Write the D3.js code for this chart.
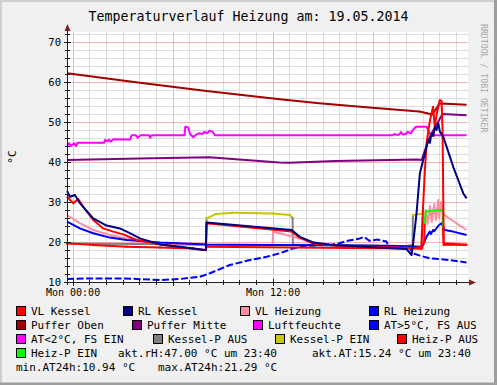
<!DOCTYPE html>
<html>
<head>
<meta charset="utf-8">
<script src="https://cdn.jsdelivr.net/npm/d3@7"></script>
<style>
  body { margin: 0; background: #fff; }
  svg { display: block; font-family: "DejaVu Sans Mono", monospace; }
</style>
</head>
<body>
<div id="graph"></div>
<script>
// hours from Mon 00:00, values in °C (or % for Luftfeuchte)
var vlKessel = [[-0.33,31.3],[0.04,29.7],[0.34,30.75],[0.64,28.8],[1.24,25.5],[1.84,23.4],[2.44,22.6],[3.04,21.9],[3.84,20.5],[4.84,19.7],[6.24,18.8],[8.0,18.0],[8.04,24.7],[13.14,22.6],[13.64,21.1],[14.44,19.6],[16,19.0],[20.5,18.5],[20.94,18.8],[21.03,28.8],[21.13,37.2],[21.24,44.7],[21.43,50.1],[21.63,53.8],[21.73,49.0],[21.85,52.0],[22.03,55.5],[22.14,55.3],[22.2,48.0],[22.27,19.7],[23.64,19.3]];
var rlKessel = [[-0.33,32.75],[-0.16,31.3],[0.14,31.75],[0.44,29.7],[1.24,25.9],[2.04,24.1],[2.84,23.4],[3.44,22.2],[4.04,20.9],[5.24,19.4],[6.44,18.8],[7.84,18.0],[8.0,18.0],[8.04,24.9],[13.14,23.0],[13.64,21.3],[14.44,19.9],[15.6,19.25],[20.04,18.25],[20.34,16.75],[20.44,19.7],[20.64,27.2],[20.84,37.2],[21.04,40.5],[21.34,45.5],[21.44,44.8],[21.54,47.2],[21.64,46.5],[21.74,48.8],[21.84,48.0],[21.94,49.7],[22.04,47.6],[22.24,46.3],[22.54,42.6],[22.84,38.8],[23.14,35.5],[23.44,32.2],[23.64,30.9]];
var vlHeizung = [[-0.33,26.75],[0.44,24.7],[1.24,23.0],[2.24,21.75],[3.24,20.9],[4.44,20.1],[5.84,19.4],[8,19.2],[12.0,19.2],[12.03,22.6],[13.24,21.3],[14.24,20.1],[15.24,19.4],[16,19.0],[20.9,18.8],[21.0,26.3],[21.1,24.0],[21.2,28.0],[21.3,24.5],[21.45,29.0],[21.55,25.0],[21.7,29.5],[21.8,25.5],[21.94,30.5],[22.0,26.0],[22.1,30.0],[22.2,27.5],[22.3,26.75],[23.64,23.0]];
var rlHeizung = [[-0.33,25.1],[0.44,23.4],[1.24,22.2],[2.24,21.1],[3.24,20.5],[5.24,19.9],[8.04,19.4],[12,19.25],[16,19.2],[19.5,19.0],[20.9,18.8],[21.03,19.25],[21.24,21.3],[21.43,22.6],[21.5,22.0],[21.63,23.0],[21.7,22.7],[21.99,24.25],[22.14,24.7],[22.33,23.0],[22.83,22.6],[23.64,21.75]];
var pufferOben = [[-0.33,62.2],[4.04,59.8],[8.04,57.75],[12.44,55.7],[14.8,54.7],[17.8,53.6],[20.8,52.6],[21.6,51.9],[22.0,54.5],[22.1,54.6],[23.64,54.3]];
var pufferMitte = [[-0.33,40.5],[4,40.9],[8.2,41.2],[10,40.6],[12.4,39.9],[13,39.8],[15.8,40.25],[20.7,40.6],[20.94,40.5],[21.43,46.3],[22.2,52.0],[23.64,51.7]];
var luftfeuchte = [[-0.33,44.0],[-0.2,44.7],[-0.1,44.0],[0.1,44.7],[0.2,44.0],[0.3,44.8],[1.9,44.8],[1.95,45.5],[2.1,45.2],[2.2,45.6],[2.3,45.1],[2.45,45.7],[3.45,45.6],[3.54,46.7],[3.8,46.7],[3.9,46.1],[4.1,46.7],[4.6,46.7],[4.65,46.1],[4.75,46.7],[6.72,46.7],[6.76,48.8],[6.92,48.7],[7.05,47.0],[7.24,46.2],[7.4,46.8],[7.6,47.2],[7.8,47.0],[7.9,47.5],[8.1,47.2],[8.2,47.8],[8.4,47.6],[8.54,46.7],[19.2,46.7],[19.3,47.0],[19.4,46.8],[19.6,46.8],[19.7,47.5],[19.8,46.9],[20.0,47.0],[20.1,47.5],[20.3,47.2],[20.4,47.9],[20.6,48.8],[21.24,48.8],[21.45,47.0],[21.63,46.7],[23.64,46.7]];
var aussen = [[-0.33,10.75],[1,10.9],[3,10.9],[5.24,10.5],[6.44,10.75],[7.64,11.3],[8.24,12.2],[9.44,14.25],[10.64,15.5],[11.64,16.3],[12.44,17.2],[13.24,18.4],[14,19.0],[15.6,19.4],[16.0,19.7],[16.5,20.3],[17.0,20.7],[17.24,20.9],[17.5,21.29],[17.8,20.3],[18.3,20.6],[18.84,20.1],[18.94,19.0],[20.2,18.8],[20.42,17.2],[20.84,16.6],[21.44,15.9],[22.64,15.5],[23.64,14.9]];
// pump states: [hour, value, on]
var kesselP = [[-0.33,19.6,0],[8.0,19.4,0],[8.04,25.9,1],[8.6,27.0,1],[9.6,27.3,1],[12,27.1,1],[13.04,26.75,1],[13.2,26.0,0],[13.22,19.3,0],[20.0,19.0,0],[20.4,19.3,0],[20.42,26.75,1],[21.13,27.2,1]];
var heizP = [[-0.33,19.7,0],[1.24,19.25,0],[3.24,18.8,0],[5.24,18.6,0],[7.24,18.4,0],[8.0,18.0,0],[8.04,18.8,0],[20.0,18.4,0],[20.94,18.3,0],[21.1,20.0,0],[21.13,24.7,1],[21.2,27.6,1],[22.0,28.0,1],[22.2,28.0,1],[22.22,23.4,0],[22.27,19.3,0],[23.64,19.3,0]];

var yTicks = [10, 20, 30, 40, 50, 60, 70];
var xLabels = [[0, "Mon 00:00"], [12, "Mon 12:00"]];
var title = "Temperaturverlauf Heizung am: 19.05.2014";
var legendRows = [
    [["VL Kessel", "#FF0000"], ["RL Kessel", "#000080"], ["VL Heizung", "#FF8CA0"], ["RL Heizung", "#0000FF"]],
    [["Puffer Oben", "#A00000"], ["Puffer Mitte", "#800080"], ["Luftfeuchte", "#FF00FF"], ["AT>5°C, FS AUS", "#0000FF"]],
    [["AT<2°C, FS EIN", "#FF00FF"], ["Kessel-P AUS", "#808080"], ["Kessel-P EIN", "#C8C800"], ["Heiz-P AUS", "#FF0000"]],
    [["Heiz-P EIN", "#00FF00"]]
];
var infoTexts = ["akt.rH:47.00 °C um 23:40", "akt.AT:15.24 °C um 23:40", "min.AT24h:10.94 °C", "max.AT24h:21.29 °C"];

var W = 497, H = 385,
    plot = {left: 67, right: 467, top: 32, bottom: 282};

var svg = d3.select("#graph").append("svg").attr("width", W).attr("height", H);

// frame
svg.append("rect").attr("width", W).attr("height", H).attr("fill", "#F0F0F0");
svg.append("path").attr("d", "M0,385V0H497").attr("fill", "none").attr("stroke", "#CFCFCF").attr("stroke-width", 4);
svg.append("path").attr("d", "M0,384H495.5V0").attr("fill", "none").attr("stroke", "#9E9E9E").attr("stroke-width", 3);

var x = d3.scaleLinear().domain([-1 / 3, 23 + 2 / 3]).range([plot.left, plot.right]);
var y = d3.scaleLinear().domain([10, 72.5]).range([plot.bottom, plot.top]);

svg.append("rect")
    .attr("x", plot.left).attr("y", plot.top)
    .attr("width", plot.right - plot.left + 1).attr("height", plot.bottom - plot.top)
    .attr("fill", "#fff");

function crisp(v) { return Math.round(v) + 0.5; }

// grid
var grid = svg.append("g");
d3.range(0, 24).forEach(function (h) {
    var px = crisp(x(h));
    grid.append("line")
        .attr("x1", px).attr("x2", px).attr("y1", plot.top).attr("y2", plot.bottom)
        .attr("stroke", h % 6 === 0 ? "#F4B4B4" : "#DCDCDC");
});
d3.range(10, 73, 2).forEach(function (v) {
    var py = crisp(y(v));
    grid.append("line")
        .attr("x1", plot.left).attr("x2", plot.right + 1).attr("y1", py).attr("y2", py)
        .attr("stroke", v % 10 === 0 ? "#F4B4B4" : "#DCDCDC");
});

// lines
var line = d3.line()
    .x(function (d) { return x(d[0]); })
    .y(function (d) { return y(d[1]); });

var plotArea = svg.append("g");

function drawLine(data, color, dash) {
    plotArea.append("path")
        .attr("d", line(data))
        .attr("fill", "none")
        .attr("stroke", color)
        .attr("stroke-width", 2)
        .attr("stroke-linejoin", "round")
        .attr("stroke-dasharray", dash || null);
}

function drawState(data, offColor, onColor) {
    for (var i = 0; i < data.length - 1; i++) {
        plotArea.append("path")
            .attr("d", line([data[i], data[i + 1]]))
            .attr("fill", "none")
            .attr("stroke", data[i][2] ? onColor : offColor)
            .attr("stroke-width", 2)
            .attr("stroke-linecap", "square");
    }
}

drawLine(pufferOben, "#A00000");
drawLine(pufferMitte, "#800080");
drawLine(luftfeuchte, "#FF00FF");
drawLine(aussen, "#0000FF", "7,2.5");
drawState(kesselP, "#808080", "#C8C800");
drawLine(vlHeizung, "#FF8CA0");
drawLine(rlHeizung, "#0000FF");
drawState(heizP, "#FF0000", "#00FF00");
drawLine(vlKessel, "#FF0000");
drawLine(rlKessel, "#000080");

// axes
var axisColor = "#1F1F1F", arrowColor = "#7F1F1F";
var ax = svg.append("g");
ax.append("line").attr("x1", crisp(plot.left)).attr("x2", crisp(plot.left))
    .attr("y1", plot.bottom + 3).attr("y2", plot.top - 4).attr("stroke", axisColor);
ax.append("line").attr("x1", plot.left - 3).attr("x2", plot.right + 4)
    .attr("y1", crisp(plot.bottom)).attr("y2", crisp(plot.bottom)).attr("stroke", axisColor);
ax.append("path")
    .attr("d", "M" + (plot.left + 0.5) + "," + (plot.top - 8) + "l-3,7h6z")
    .attr("fill", arrowColor);
ax.append("path")
    .attr("d", "M" + (plot.right + 9) + "," + (plot.bottom + 0.5) + "l-7,-3v6z")
    .attr("fill", arrowColor);

// small tick marks
d3.range(0, 24).forEach(function (h) {
    var px = crisp(x(h)), len = h % 6 === 0 ? 3 : 2;
    ax.append("line").attr("x1", px).attr("x2", px)
        .attr("y1", plot.bottom - len).attr("y2", plot.bottom + len + 1).attr("stroke", axisColor);
});
d3.range(10, 73, 2).forEach(function (v) {
    var py = crisp(y(v)), len = v % 10 === 0 ? 3 : 2;
    ax.append("line").attr("x1", plot.left - len).attr("x2", plot.left + len + 1)
        .attr("y1", py).attr("y2", py).attr("stroke", axisColor);
});

var yAxis = d3.axisLeft(y).tickValues(yTicks).tickSize(0).tickPadding(6);
svg.append("g")
    .attr("transform", "translate(" + plot.left + ",0)")
    .call(yAxis)
    .call(function (g) { g.select(".domain").remove(); })
    .selectAll("text")
    .attr("font-family", "DejaVu Sans Mono").attr("font-size", 10.5).attr("fill", "#000");

var xAxis = d3.axisBottom(x)
    .tickValues(xLabels.map(function (d) { return d[0]; }))
    .tickFormat(function (d, i) { return xLabels[i][1]; })
    .tickSize(0).tickPadding(7);
svg.append("g")
    .attr("transform", "translate(0," + plot.bottom + ")")
    .call(xAxis)
    .call(function (g) { g.select(".domain").remove(); })
    .selectAll("text")
    .attr("font-family", "DejaVu Sans Mono").attr("font-size", 10).attr("fill", "#000");

// labels
svg.append("text")
    .attr("x", W / 2).attr("y", 21)
    .attr("text-anchor", "middle")
    .attr("font-size", 13.3)
    .text(title);

svg.append("text")
    .attr("transform", "translate(16,157) rotate(-90)")
    .attr("text-anchor", "middle")
    .attr("font-size", 11)
    .text("°C");

svg.append("text")
    .attr("transform", "translate(481,24) rotate(90)")
    .attr("font-size", 8.2)
    .attr("fill", "#A8A8A8")
    .text("RRDTOOL / TOBI OETIKER");

// legend
var legendCols = [
    [16, 123, 240, 369],
    [16, 132, 253, 369],
    [16, 153, 275, 397],
    [16]
];
var legend = svg.append("g").attr("font-size", 11);
legendRows.forEach(function (row, r) {
    var base = 315 + r * 14;
    row.forEach(function (item, c) {
        var sx = legendCols[r][c];
        legend.append("rect")
            .attr("x", sx + 0.5).attr("y", base - 8.5)
            .attr("width", 9).attr("height", 9)
            .attr("fill", item[1]).attr("stroke", "#000");
        legend.append("text")
            .attr("x", sx + 15).attr("y", base)
            .text(item[0]);
    });
});
legend.append("text").attr("x", 118).attr("y", 357).text(infoTexts[0]);
legend.append("text").attr("x", 312).attr("y", 357).text(infoTexts[1]);
legend.append("text").attr("x", 16).attr("y", 371).text(infoTexts[2]);
legend.append("text").attr("x", 158).attr("y", 371).text(infoTexts[3]);
</script>
</body>
</html>
